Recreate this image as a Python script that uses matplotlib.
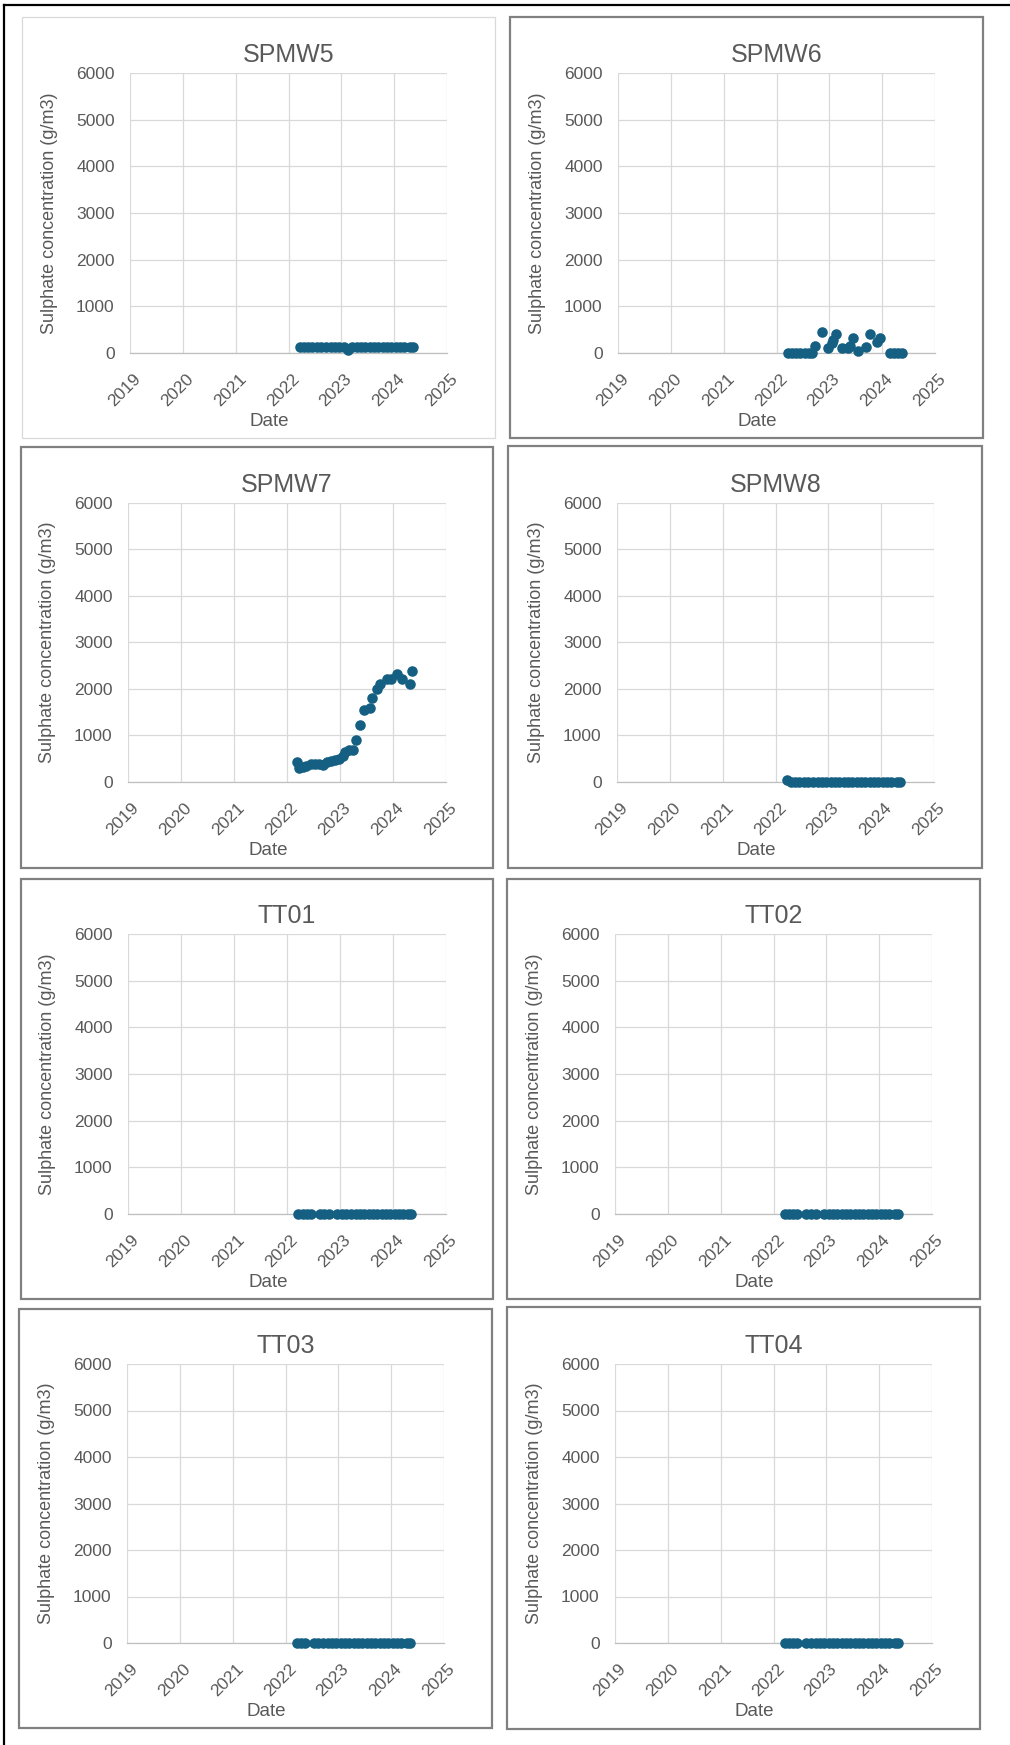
import matplotlib
matplotlib.use("Agg")
import matplotlib.pyplot as plt
import matplotlib.transforms as mtransforms
from matplotlib.patches import Rectangle
from matplotlib.lines import Line2D
import pandas as pd
from datetime import datetime

plt.rcParams['font.family'] = ['Liberation Sans', 'DejaVu Sans']

# monthly sampling round shared by most bores
round_dates = ["2022-03-20", "2022-04-20", "2022-05-18", "2022-06-15", "2022-07-20",
               "2022-08-17", "2022-09-14", "2022-10-19", "2022-11-16", "2022-12-14",
               "2023-01-18", "2023-02-15", "2023-03-15", "2023-04-19", "2023-05-17",
               "2023-06-14", "2023-07-19", "2023-08-16", "2023-09-13", "2023-10-18",
               "2023-11-15", "2023-12-13", "2024-01-17", "2024-02-14", "2024-03-13",
               "2024-04-17", "2024-05-08"]

spmw5_conc = [130, 130, 130, 130, 130, 130, 130, 130, 130, 130,
              130, 75, 130, 130, 130, 130, 130, 130, 130, 130,
              130, 130, 130, 130, 130, 130, 130]

spmw6_dates = ["2022-03-20", "2022-04-20", "2022-05-18", "2022-06-15", "2022-07-20",
               "2022-08-17", "2022-09-05", "2022-09-25", "2022-11-10", "2022-12-25",
               "2023-01-20", "2023-01-28", "2023-02-18", "2023-03-28", "2023-05-10",
               "2023-05-25", "2023-06-12", "2023-07-22", "2023-09-15", "2023-10-08",
               "2023-11-25", "2023-12-16", "2024-02-25", "2024-03-25", "2024-04-20",
               "2024-05-15"]
spmw6_conc = [0, 0, 0, 0, 0, 0, 0, 150, 450, 100,
              210, 280, 400, 100, 100, 140, 330, 40, 130, 400,
              240, 320, 0, 0, 0, 0]

spmw7_dates = ["2022-03-08", "2022-03-25", "2022-04-20", "2022-05-15", "2022-06-15",
               "2022-07-10", "2022-08-10", "2022-09-05", "2022-10-01", "2022-10-30",
               "2022-11-25", "2022-12-22", "2023-01-20", "2023-02-08", "2023-03-05",
               "2023-04-01", "2023-04-20", "2023-05-20", "2023-06-18", "2023-07-25",
               "2023-08-08", "2023-09-12", "2023-10-05", "2023-11-20", "2023-12-18",
               "2024-01-30", "2024-03-05", "2024-04-28", "2024-05-15"]
spmw7_conc = [420, 300, 330, 350, 380, 390, 380, 370, 440, 460,
              470, 490, 560, 650, 690, 680, 900, 1230, 1540, 1600,
              1810, 2000, 2110, 2220, 2220, 2320, 2220, 2110, 2390]

spmw8_conc = [50, 0, 0, 0, 0, 0, 0, 0, 0, 0,
              0, 0, 0, 0, 0, 0, 0, 0, 0, 0,
              0, 0, 0, 0, 0, 0, 0]

tt01_conc = [0, 0, 0, 0, None, 0, 0, 0, None, 0,
             0, 0, 0, 0, 0, 0, 0, 0, 0, 0,
             0, 0, 0, 0, 0, 0, 0]
tt02_conc = [0, 0, 0, 0, None, 0, 0, 0, None, 0,
             0, 0, 0, 0, 0, 0, 0, 0, 0, 0,
             0, 0, 0, 0, 0, 0, 0]
tt03_conc = [0, 0, 0, None, 0, 0, 0, 0, 0, 0,
             0, 0, 0, 0, 0, 0, 0, 0, 0, 0,
             0, 0, 0, 0, 0, 0, 0]
tt04_conc = [0, 0, 0, 0, None, 0, 0, 0, 0, 0,
             0, 0, 0, 0, 0, 0, 0, 0, 0, 0,
             0, 0, 0, 0, 0, 0, 0]

years = [2019, 2020, 2021, 2022, 2023, 2024, 2025]
y_ticks = [0, 1000, 2000, 3000, 4000, 5000, 6000]

wells = [
    ("SPMW5", round_dates, spmw5_conc),
    ("SPMW6", spmw6_dates, spmw6_conc),
    ("SPMW7", spmw7_dates, spmw7_conc),
    ("SPMW8", round_dates, spmw8_conc),
    ("TT01", round_dates, tt01_conc),
    ("TT02", round_dates, tt02_conc),
    ("TT03", round_dates, tt03_conc),
    ("TT04", round_dates, tt04_conc),
]

# page layout in pixels: chart frame box and plot area box for each well
W, H = 1010, 1745
frames = [(22, 17, 495, 438), (510, 17, 983, 438),
          (21, 447, 493, 868), (508, 446, 982, 868),
          (21, 879, 493, 1299), (507, 879, 980, 1299),
          (19, 1309, 492, 1728), (507, 1307, 980, 1729)]
plot_areas = [(130, 73, 447, 353), (618, 73, 935, 353),
              (128, 503, 446, 782), (617, 503, 934, 782),
              (128, 934, 446, 1214), (615, 934, 932, 1214),
              (127, 1364, 444, 1643), (615, 1364, 932, 1643)]

text_col = '#595959'
grid_col = '#d9d9d9'
marker_col = '#156082'

fig = plt.figure(figsize=(W / 100, H / 100), dpi=100)
fig.patch.set_facecolor('white')

# outer page border (top and left edges only)
fig.add_artist(Line2D([4 / W, 1.0], [1 - 5 / H, 1 - 5 / H], color='black', lw=1.6,
                      transform=fig.transFigure))
fig.add_artist(Line2D([4 / W, 4 / W], [1 - 5 / H, 0.0], color='black', lw=1.6,
                      transform=fig.transFigure))

year_dates = [datetime(y, 1, 1) for y in years]
shift = mtransforms.ScaledTranslation(3 / 100, 0, fig.dpi_scale_trans)

for i, (name, dates, conc) in enumerate(wells):
    fx0, fy0, fx1, fy1 = frames[i]
    light = (i == 0)
    fig.add_artist(Rectangle((fx0 / W, 1 - fy1 / H), (fx1 - fx0) / W, (fy1 - fy0) / H,
                             transform=fig.transFigure, fill=False,
                             ec=grid_col if light else '#808080',
                             lw=0.9 if light else 1.6))

    x0, y0, x1, y1 = plot_areas[i]
    ax = fig.add_axes([x0 / W, 1 - y1 / H, (x1 - x0) / W, (y1 - y0) / H])

    df = pd.DataFrame({'date': pd.to_datetime(dates),
                       'conc': pd.to_numeric(pd.Series(conc, dtype=object), errors='coerce')})
    df = df.dropna()
    ax.plot(df['date'], df['conc'], 'o', ms=7.6, color=marker_col, mec=marker_col,
            mew=0, clip_on=False, zorder=5)

    ax.set_xlim(year_dates[0], year_dates[-1])
    ax.set_ylim(0, 6000)
    ax.set_xticks(year_dates)
    ax.set_xticklabels([str(y) for y in years])
    ax.set_yticks(y_ticks)
    ax.set_yticklabels([str(v) for v in y_ticks])
    ax.grid(True, color=grid_col, lw=0.9)
    ax.set_axisbelow(True)
    for side in ['top', 'right', 'left']:
        ax.spines[side].set_visible(False)
    ax.spines['bottom'].set_color('#bfbfbf')
    ax.spines['bottom'].set_linewidth(0.9)

    ax.tick_params(axis='both', length=0, colors=text_col, labelsize=12.5)
    ax.tick_params(axis='y', pad=11)
    ax.tick_params(axis='x', pad=13)
    for lbl in ax.get_xticklabels():
        lbl.set_rotation(45)
        lbl.set_ha('right')
        lbl.set_va('top')
        lbl.set_rotation_mode('anchor')
        lbl.set_transform(lbl.get_transform() + shift)

    ax.set_ylabel('Sulphate concentration (g/m3)', fontsize=13, color=text_col)
    ax.yaxis.set_label_coords(-0.227, 0.5)
    ax.set_xlabel('Date', fontsize=13.5, color=text_col)
    ax.xaxis.set_label_coords(0.44, -0.214)

    ax.text(0.5, 1.04, name, transform=ax.transAxes, ha='center', va='baseline',
            fontsize=18, color=text_col)

fig.savefig('out.png', dpi=100, facecolor='white')
